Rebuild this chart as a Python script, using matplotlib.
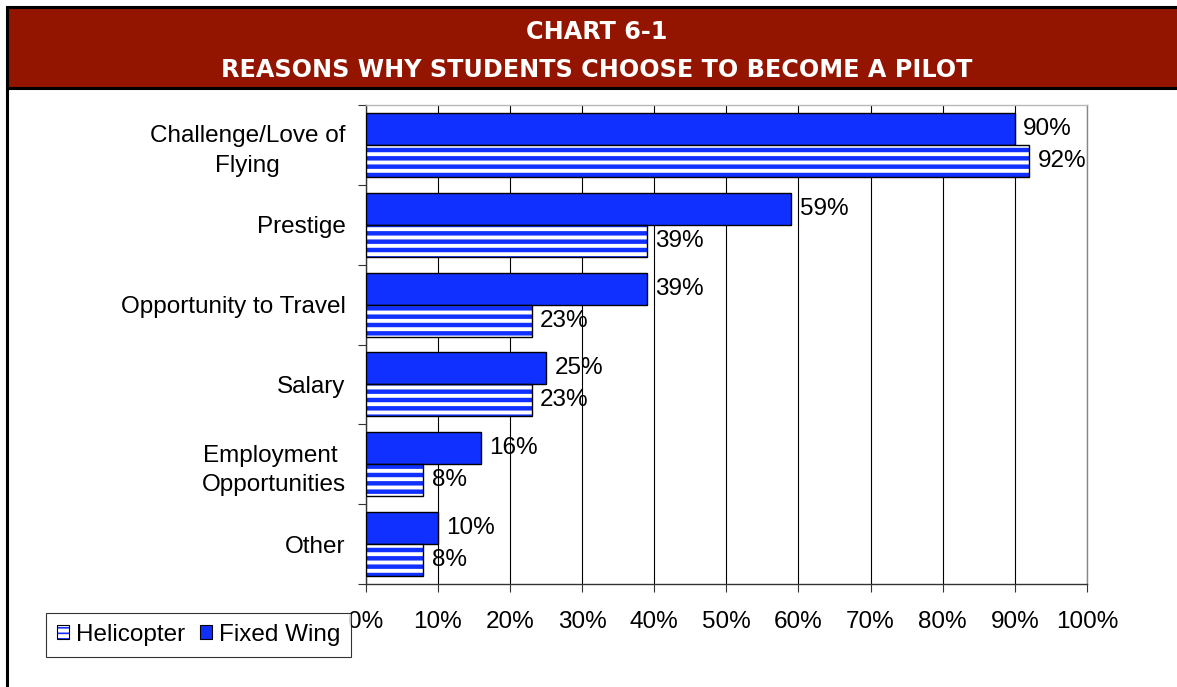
#!/usr/bin/env python3
"""Chart 6-1: reasons why students choose to become a pilot."""
import matplotlib
matplotlib.use("Agg")
import matplotlib.pyplot as plt          # noqa: E402
from matplotlib.patches import Rectangle, Patch   # noqa: E402
from matplotlib.legend_handler import HandlerTuple  # noqa: E402
import numpy as np                       # noqa: E402

categories = ["Challenge/Love of\nFlying", "Prestige", "Opportunity to Travel",
              "Salary", "Employment \nOpportunities", "Other"]
fixed_wing = [90, 59, 39, 25, 16, 10]
helicopter = [92, 39, 23, 23, 8, 8]
xticks = list(range(0, 101, 10))

BLUE = "#1030ff"
HEADER = "#931500"
W, H = 1177, 687

plt.rcParams["font.family"] = ["Liberation Sans", "DejaVu Sans"]
plt.rcParams["hatch.linewidth"] = 2.8

fig = plt.figure(figsize=(W / 100, H / 100), dpi=100)


def fx(px):
    return px / W


def fy(py):
    return 1 - py / H


# header band and frame
fig.patches.append(Rectangle((fx(7), fy(88)), fx(1200 - 7), fy(7) - fy(88),
                             transform=fig.transFigure, facecolor=HEADER,
                             edgecolor="black", lw=2.2, zorder=0))
fig.add_artist(plt.Line2D([fx(7), fx(7)], [fy(88), 0], color="black", lw=2.2,
                          transform=fig.transFigure))
fig.text(fx(597), fy(32), "CHART 6-1", color="white", fontsize=17.2,
         fontweight="bold", family="DejaVu Sans", ha="center", va="center")
fig.text(fx(597), fy(70), "REASONS WHY STUDENTS CHOOSE TO BECOME A PILOT",
         color="white", fontsize=17.2, fontweight="bold", family="DejaVu Sans",
         ha="center", va="center")

ax = fig.add_axes([fx(365.7), fy(584), fx(1087 - 365.7), fy(105) - fy(584)])
y = np.arange(len(categories))
bh = 0.4

ax.barh(y - bh / 2, fixed_wing, bh, color=BLUE, edgecolor="black", lw=1.0,
        zorder=3)
ax.barh(y + bh / 2, helicopter, bh, color=BLUE, edgecolor="white",
        hatch="--", lw=0, zorder=3)
ax.barh(y + bh / 2, helicopter, bh, fill=False, edgecolor="black", lw=1.0,
        zorder=4)

for yi, v in zip(y, fixed_wing):
    ax.annotate(f"{v}%", (v, yi - bh / 2), xytext=(6, 0),
                textcoords="offset points", va="center", fontsize=17.5,
                zorder=5)
for yi, v in zip(y, helicopter):
    ax.annotate(f"{v}%", (v, yi + bh / 2), xytext=(6, 0),
                textcoords="offset points", va="center", fontsize=17.5,
                zorder=5)

ax.set_xlim(0, 100)
ax.set_ylim(len(categories) - 0.5, -0.5)
ax.set_xticks(xticks)
ax.set_xticklabels([f"{t}%" for t in xticks], fontsize=17.5)
ax.tick_params(axis="x", length=6, width=0.8, color="#333333", pad=13.5)
ax.set_yticks(y)
ax.set_yticklabels(categories, fontsize=17.5, multialignment="center",
                   linespacing=1.45)
ax.tick_params(axis="y", which="major", length=0, pad=14.5)
ax.set_yticks(np.arange(-0.5, len(categories)), minor=True)
ax.tick_params(axis="y", which="minor", length=6, width=0.8, color="#333333")
ax.xaxis.grid(True, color="black", lw=0.8, zorder=0)
ax.set_axisbelow(True)
for side, col in [("left", "#333333"), ("bottom", "#333333"),
                  ("top", "#b8b8b8"), ("right", "#888888")]:
    ax.spines[side].set_color(col)
    ax.spines[side].set_linewidth(1.0)

heli_handle = (Patch(facecolor=BLUE, edgecolor="white", hatch="---", lw=0),
               Patch(fill=False, edgecolor="black", lw=0.8))
fixed_handle = Patch(facecolor=BLUE, edgecolor="black", lw=0.8)
leg = fig.legend([heli_handle, fixed_handle], ["Helicopter", "Fixed Wing"],
                 handler_map={tuple: HandlerTuple(ndivide=1)},
                 loc="center", bbox_to_anchor=(fx(198.5), fy(635)), ncol=2,
                 fontsize=17.5, frameon=True, fancybox=False,
                 edgecolor="black", handlelength=0.5, handleheight=0.5,
                 handletextpad=0.3, columnspacing=0.6, borderpad=0.45,
                 borderaxespad=0)
leg.get_frame().set_linewidth(0.8)
leg.set_zorder(10)

fig.savefig("out.png", dpi=100)
